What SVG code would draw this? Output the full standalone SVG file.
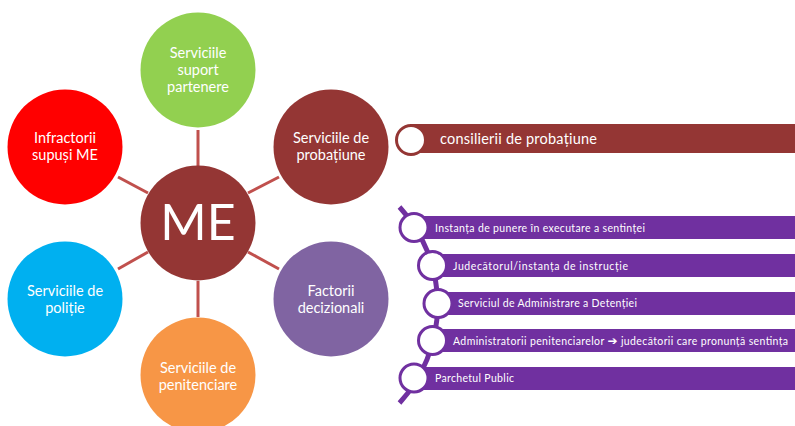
<svg xmlns="http://www.w3.org/2000/svg" width="795" height="426" viewBox="0 0 795 426">
<style>
.n{font-family:Lato,"Open Sans","Liberation Sans",sans-serif;font-size:14.5px;fill:#fff;text-anchor:middle}
.c{stroke:#C0504D;stroke-width:3}
.b{font-family:Lato,"Open Sans","Liberation Sans",sans-serif;font-size:10.5px;fill:#fff}
.pc{fill:#fff;stroke:#7030A0;stroke-width:3}
</style>
<rect width="795" height="426" fill="#fff"/>
<g id="connectors">
<line class="c" x1="198" y1="130" x2="198" y2="166"/>
<line class="c" x1="118" y1="177" x2="148" y2="193"/>
<line class="c" x1="248" y1="193" x2="279" y2="177"/>
<line class="c" x1="248" y1="252" x2="279" y2="269"/>
<line class="c" x1="118" y1="269" x2="148" y2="252"/>
<line class="c" x1="198" y1="281" x2="198" y2="317"/>
</g>
<g id="node-top">
<circle cx="198" cy="70" r="57.5" fill="#92D050"/>
<text class="n" x="198" y="58">Serviciile</text>
<text class="n" x="198" y="75">suport</text>
<text class="n" x="198" y="92">partenere</text>
</g>
<g id="node-infractorii">
<circle cx="65" cy="147" r="57.5" fill="#FF0000"/>
<text class="n" x="65" y="143">Infractorii</text>
<text class="n" x="65" y="160">supuși ME</text>
</g>
<g id="node-probatiune">
<circle cx="331" cy="147" r="57.5" fill="#943634"/>
<text class="n" x="331" y="143">Serviciile de</text>
<text class="n" x="331" y="160">probațiune</text>
</g>
<g id="node-politie">
<circle cx="65" cy="299" r="57.5" fill="#00B0F0"/>
<text class="n" x="65" y="296">Serviciile de</text>
<text class="n" x="65" y="313">poliție</text>
</g>
<g id="node-factorii">
<circle cx="331" cy="299" r="57.5" fill="#8064A2"/>
<text class="n" x="331" y="296">Factorii</text>
<text class="n" x="331" y="313">decizionali</text>
</g>
<g id="node-penitenciare">
<circle cx="198" cy="375" r="57.5" fill="#F79646"/>
<text class="n" x="198" y="373">Serviciile de</text>
<text class="n" x="198" y="390">penitenciare</text>
</g>
<g id="node-me">
<circle cx="198" cy="223" r="57.5" fill="#943634"/>
<text x="198" y="240" font-family="Lato,'Open Sans','Liberation Sans',sans-serif" font-size="50" fill="#fff" text-anchor="middle">ME</text>
</g>
<g id="list-probatiune">
<rect x="410" y="124" width="385" height="29" fill="#943634"/>
<circle cx="411" cy="140" r="14.5" fill="#fff" stroke="#943634" stroke-width="3"/>
<text x="440" y="143.5" font-family="Lato,'Open Sans','Liberation Sans',sans-serif" font-size="14.5" fill="#fff" textLength="157">consilierii de probațiune</text>
</g>
<g id="list-factorii">
<path d="M399.5 207 A145 145 0 0 1 399.5 403" fill="none" stroke="#7030A0" stroke-width="5"/>
<rect x="414" y="216" width="381" height="23" fill="#7030A0"/>
<rect x="432" y="254" width="363" height="23" fill="#7030A0"/>
<rect x="438" y="292" width="357" height="23" fill="#7030A0"/>
<rect x="432" y="329" width="363" height="23" fill="#7030A0"/>
<rect x="414" y="367" width="381" height="23" fill="#7030A0"/>
<circle class="pc" cx="414" cy="227.5" r="14"/>
<circle class="pc" cx="432.5" cy="265.5" r="14"/>
<circle class="pc" cx="438" cy="303.5" r="14"/>
<circle class="pc" cx="432.5" cy="340.5" r="14"/>
<circle class="pc" cx="414" cy="378" r="14"/>
<text class="b" x="435" y="231.5" textLength="210">Instanța de punere în executare a sentinței</text>
<text class="b" x="453" y="269.5" textLength="175">Judecătorul/instanța de instrucție</text>
<text class="b" x="458" y="307" textLength="179">Serviciul de Administrare a Detenției</text>
<text class="b" x="453" y="344.5" textLength="335">Administratorii penitenciarelor <tspan font-family="'DejaVu Sans',sans-serif" font-size="12" font-weight="bold">➔</tspan> judecătorii care pronunță sentința</text>
<text class="b" x="435" y="382" textLength="79">Parchetul Public</text>
</g>
</svg>
